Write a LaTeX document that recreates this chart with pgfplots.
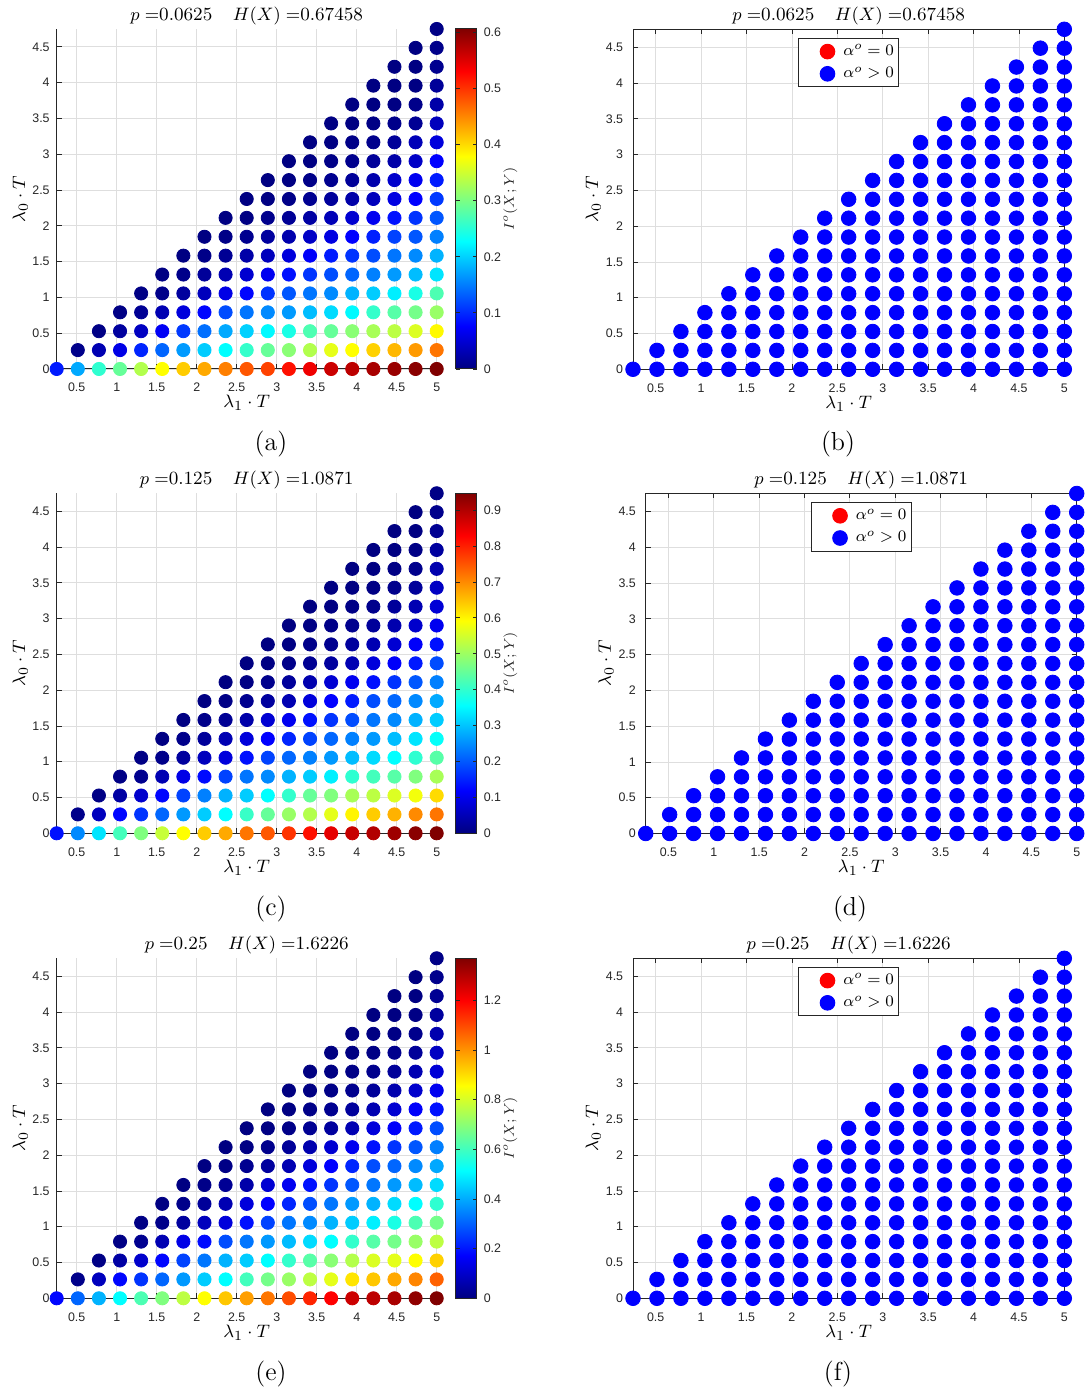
\documentclass[border=0pt]{standalone}
\usepackage{fontspec}
\usepackage{pgfplots}
\usepackage{pgfplotstable}
\pgfplotsset{compat=1.18}
\newfontfamily\tickfont{Liberation Sans}
\definecolor{axgray}{rgb}{0.15,0.15,0.15}
\definecolor{gridgray}{rgb}{0.87,0.87,0.87}

\pgfplotstableread{
x y Ia Ic Ie
0.2500 0 0.091 0.133 0.178
0.5139 0 0.176 0.246 0.308
0.7778 0 0.255 0.331 0.411
1.0417 0 0.288 0.417 0.513
1.3056 0 0.333 0.474 0.616
1.5694 0 0.379 0.540 0.685
1.8333 0 0.409 0.592 0.767
2.0972 0 0.430 0.639 0.856
2.3611 0 0.455 0.672 0.931
2.6250 0 0.479 0.720 0.986
2.8889 0 0.491 0.748 1.040
3.1528 0 0.521 0.781 1.095
3.4167 0 0.539 0.814 1.150
3.6806 0 0.561 0.852 1.198
3.9444 0 0.570 0.881 1.266
4.2083 0 0.582 0.900 1.287
4.4722 0 0.591 0.919 1.314
4.7361 0 0.600 0.938 1.348
5.0000 0 0.606 0.947 1.369
0.5139 0.2639 0.006 0.009 0.014
0.7778 0.2639 0.030 0.057 0.082
1.0417 0.2639 0.061 0.123 0.178
1.3056 0.2639 0.097 0.166 0.240
1.5694 0.2639 0.136 0.213 0.308
1.8333 0.2639 0.167 0.260 0.376
2.0972 0.2639 0.197 0.308 0.445
2.3611 0.2639 0.227 0.355 0.513
2.6250 0.2639 0.258 0.407 0.602
2.8889 0.2639 0.288 0.450 0.671
3.1528 0.2639 0.309 0.497 0.719
3.4167 0.2639 0.333 0.521 0.767
3.6806 0.2639 0.364 0.568 0.821
3.9444 0.2639 0.379 0.601 0.890
4.2083 0.2639 0.406 0.639 0.931
4.4722 0.2639 0.421 0.663 0.972
4.7361 0.2639 0.439 0.701 1.020
5.0000 0.2639 0.461 0.720 1.068
0.7778 0.5278 0.003 0.005 0.007
1.0417 0.5278 0.018 0.033 0.048
1.3056 0.5278 0.039 0.071 0.103
1.5694 0.5278 0.070 0.123 0.178
1.8333 0.5278 0.109 0.180 0.260
2.0972 0.5278 0.142 0.237 0.329
2.3611 0.5278 0.176 0.284 0.411
2.6250 0.5278 0.200 0.308 0.445
2.8889 0.5278 0.224 0.355 0.513
3.1528 0.5278 0.242 0.402 0.582
3.4167 0.5278 0.273 0.450 0.630
3.6806 0.5278 0.288 0.474 0.698
3.9444 0.5278 0.309 0.511 0.753
4.2083 0.5278 0.327 0.530 0.808
4.4722 0.5278 0.339 0.559 0.821
4.7361 0.5278 0.358 0.582 0.856
5.0000 0.5278 0.382 0.625 0.917
1.0417 0.7917 0.003 0.005 0.007
1.3056 0.7917 0.012 0.014 0.021
1.5694 0.7917 0.030 0.047 0.068
1.8333 0.7917 0.055 0.095 0.137
2.0972 0.7917 0.079 0.128 0.185
2.3611 0.7917 0.121 0.180 0.274
2.6250 0.7917 0.145 0.227 0.329
2.8889 0.7917 0.158 0.246 0.376
3.1528 0.7917 0.167 0.284 0.424
3.4167 0.7917 0.188 0.308 0.465
3.6806 0.7917 0.206 0.341 0.513
3.9444 0.7917 0.224 0.398 0.582
4.2083 0.7917 0.258 0.417 0.630
4.4722 0.7917 0.279 0.436 0.671
4.7361 0.7917 0.297 0.474 0.719
5.0000 0.7917 0.318 0.511 0.767
1.3056 1.0556 0.003 0.005 0.007
1.5694 1.0556 0.006 0.009 0.014
1.8333 1.0556 0.018 0.028 0.041
2.0972 1.0556 0.036 0.057 0.082
2.3611 1.0556 0.061 0.085 0.123
2.6250 1.0556 0.079 0.133 0.192
2.8889 1.0556 0.106 0.180 0.260
3.1528 1.0556 0.127 0.213 0.329
3.4167 1.0556 0.145 0.237 0.356
3.6806 1.0556 0.158 0.260 0.411
3.9444 1.0556 0.182 0.294 0.445
4.2083 1.0556 0.197 0.322 0.493
4.4722 1.0556 0.218 0.355 0.548
4.7361 1.0556 0.242 0.398 0.616
5.0000 1.0556 0.273 0.436 0.671
1.5694 1.3194 0.002 0.003 0.004
1.8333 1.3194 0.006 0.009 0.014
2.0972 1.3194 0.015 0.024 0.034
2.3611 1.3194 0.030 0.047 0.068
2.6250 1.3194 0.048 0.085 0.123
2.8889 1.3194 0.067 0.118 0.171
3.1528 1.3194 0.085 0.152 0.219
3.4167 1.3194 0.106 0.180 0.274
3.6806 1.3194 0.121 0.213 0.329
3.9444 1.3194 0.136 0.237 0.376
4.2083 1.3194 0.152 0.260 0.411
4.4722 1.3194 0.167 0.294 0.465
4.7361 1.3194 0.188 0.331 0.513
5.0000 1.3194 0.212 0.360 0.575
1.8333 1.5833 0.001 0.002 0.003
2.0972 1.5833 0.005 0.008 0.011
2.3611 1.5833 0.012 0.019 0.027
2.6250 1.5833 0.024 0.038 0.055
2.8889 1.5833 0.036 0.076 0.110
3.1528 1.5833 0.055 0.104 0.151
3.4167 1.5833 0.073 0.133 0.192
3.6806 1.5833 0.091 0.166 0.240
3.9444 1.5833 0.106 0.189 0.287
4.2083 1.5833 0.121 0.227 0.329
4.4722 1.5833 0.145 0.246 0.376
4.7361 1.5833 0.158 0.284 0.424
5.0000 1.5833 0.182 0.308 0.465
2.0972 1.8472 0.001 0.002 0.003
2.3611 1.8472 0.004 0.006 0.008
2.6250 1.8472 0.009 0.014 0.021
2.8889 1.8472 0.018 0.028 0.041
3.1528 1.8472 0.027 0.047 0.068
3.4167 1.8472 0.042 0.085 0.123
3.6806 1.8472 0.058 0.118 0.171
3.9444 1.8472 0.076 0.142 0.219
4.2083 1.8472 0.094 0.189 0.274
4.4722 1.8472 0.115 0.213 0.308
4.7361 1.8472 0.127 0.246 0.356
5.0000 1.8472 0.152 0.275 0.397
2.3611 2.1111 0.001 0.001 0.001
2.6250 2.1111 0.002 0.004 0.005
2.8889 2.1111 0.007 0.011 0.016
3.1528 2.1111 0.013 0.024 0.034
3.4167 2.1111 0.021 0.043 0.062
3.6806 2.1111 0.033 0.076 0.110
3.9444 2.1111 0.048 0.104 0.151
4.2083 2.1111 0.067 0.133 0.192
4.4722 2.1111 0.085 0.166 0.240
4.7361 2.1111 0.106 0.199 0.287
5.0000 2.1111 0.127 0.237 0.342
2.6250 2.3750 0.001 0.001 0.001
2.8889 2.3750 0.002 0.003 0.004
3.1528 2.3750 0.005 0.008 0.011
3.4167 2.3750 0.010 0.017 0.025
3.6806 2.3750 0.016 0.028 0.041
3.9444 2.3750 0.024 0.047 0.068
4.2083 2.3750 0.036 0.085 0.123
4.4722 2.3750 0.058 0.114 0.164
4.7361 2.3750 0.076 0.142 0.205
5.0000 2.3750 0.109 0.189 0.274
2.8889 2.6389 0.001 0.001 0.001
3.1528 2.6389 0.002 0.003 0.004
3.4167 2.6389 0.005 0.008 0.011
3.6806 2.6389 0.009 0.014 0.021
3.9444 2.6389 0.015 0.027 0.038
4.2083 2.6389 0.027 0.047 0.068
4.4722 2.6389 0.045 0.076 0.110
4.7361 2.6389 0.067 0.114 0.164
5.0000 2.6389 0.091 0.133 0.192
3.1528 2.9028 0.001 0.001 0.001
3.4167 2.9028 0.002 0.003 0.004
3.6806 2.9028 0.004 0.007 0.010
3.9444 2.9028 0.008 0.013 0.019
4.2083 2.9028 0.015 0.024 0.034
4.4722 2.9028 0.024 0.043 0.062
4.7361 2.9028 0.042 0.071 0.103
5.0000 2.9028 0.076 0.104 0.151
3.4167 3.1667 0.001 0.001 0.001
3.6806 3.1667 0.002 0.003 0.004
3.9444 3.1667 0.004 0.006 0.008
4.2083 3.1667 0.007 0.011 0.016
4.4722 3.1667 0.015 0.024 0.034
4.7361 3.1667 0.033 0.047 0.068
5.0000 3.1667 0.055 0.080 0.116
3.6806 3.4306 0.001 0.001 0.001
3.9444 3.4306 0.001 0.002 0.003
4.2083 3.4306 0.003 0.005 0.007
4.4722 3.4306 0.006 0.011 0.016
4.7361 3.4306 0.012 0.024 0.034
5.0000 3.4306 0.036 0.062 0.089
3.9444 3.6944 0.001 0.001 0.001
4.2083 3.6944 0.001 0.002 0.003
4.4722 3.6944 0.002 0.005 0.007
4.7361 3.6944 0.006 0.011 0.016
5.0000 3.6944 0.024 0.043 0.062
4.2083 3.9583 0.001 0.001 0.001
4.4722 3.9583 0.001 0.002 0.003
4.7361 3.9583 0.002 0.005 0.007
5.0000 3.9583 0.015 0.028 0.041
4.4722 4.2222 0.001 0.001 0.001
4.7361 4.2222 0.001 0.002 0.003
5.0000 4.2222 0.009 0.017 0.025
4.7361 4.4861 0.001 0.001 0.001
5.0000 4.4861 0.006 0.011 0.016
5.0000 4.7500 0.003 0.006 0.008
}\data

\newcommand{\tfont}{\tickfont\fontsize{6.2}{7}\selectfont}
\newcommand{\lfont}{\fontsize{9.5}{11}\selectfont}

\pgfplotsset{
  common/.style={
    scale only axis, height=170pt,
    xmin=0.25, xmax=5, ymin=0, ymax=4.75,
    xtick={0.5,1,1.5,2,2.5,3,3.5,4,4.5,5},
    ytick={0,0.5,1,1.5,2,2.5,3,3.5,4,4.5},
    grid=major, major grid style={gridgray, line width=0.4pt},
    tick align=inside, major tick length=2.5pt,
    every tick/.style={axgray, line width=0.4pt},
    axis line style={axgray, line width=0.5pt},
    ticklabel style={font=\tfont, text=axgray},
    xticklabel style={yshift=-3.6pt},
    /pgf/number format/assume math mode=true,
    clip=false,
    xlabel={$\lambda_1\cdot T$}, ylabel={$\lambda_0\cdot T$},
    every axis x label/.style={at={(axis description cs:0.5,0)}, anchor=base, yshift=-19.5pt, font=\lfont},
    every axis title/.style={at={(axis description cs:0.5,1)}, anchor=base, yshift=4.3pt, font=\fontsize{9.3}{11}\selectfont},
  },
  left/.style={
    common, width=190pt, axis lines*=left,
    every axis y label/.style={at={(axis description cs:-0.0834,0.5)}, rotate=90, anchor=base, font=\lfont},
    colorbar, colormap/jet, point meta min=0,
  },
  cbar/.style={
    at={(parent axis.north east)}, anchor=north west, xshift=1pt,
    width=10.5pt, scale only axis,
    yticklabel style={font=\tfont, text=axgray},
    /pgf/number format/assume math mode=true,
    axis line style={axgray, line width=0.5pt},
    tick align=inside, major tick length=2pt,
    every tick/.style={axgray, line width=0.4pt},
    ylabel={$I^o(X;Y)$},
    every axis y label/.style={at={(axis description cs:2.6,0.5)}, rotate=90, anchor=center, font=\fontsize{7.5}{9}\selectfont, text=axgray},
  },
  right/.style={
    common, width=215.65pt,
    every axis y label/.style={at={(axis description cs:-0.081,0.5)}, rotate=90, anchor=base, font=\lfont},
    yticklabel style={xshift=-1.4pt},
    legend cell align=left,
    legend style={at={(axis description cs:0.5,1)}, anchor=north, yshift=-4.35pt,
      draw=axgray, line width=0.5pt, fill=white, font=\fontsize{8}{9.5}\selectfont,
      inner xsep=0.75pt, inner ysep=1.5pt, row sep=1pt, nodes={inner sep=1.6pt},
      /tikz/every odd column/.append style={column sep=2.7pt}},
    legend image code/.code={\path[draw=none,fill=none] (-13.6pt,0pt) -- (0pt,0pt); \draw[##1] plot coordinates {(0pt,0pt)};},
  },
  dots/.style={scatter, only marks, mark=*, mark size=3.3pt, scatter src=explicit,
    scatter/use mapped color={draw=mapped color, fill=mapped color}},
  bdots/.style={only marks, mark=*, mark size=3.65pt, color=blue},
}

\begin{document}
\begin{tikzpicture}
\path[use as bounding box] (0,0) rectangle (542.5pt,696pt);

% (a)
\begin{axis}[left, at={(28.35pt,511.5pt)}, anchor=south west,
  title={$p=$0.0625\hspace{10.3pt}$H(X)=$0.67458},
  point meta max=0.606,
  colorbar style={cbar, ytick={0,0.1,0.2,0.3,0.4,0.5,0.6}}]
\addplot[dots] table[x=x, y=y, meta=Ia]{\data};
\end{axis}

% (b)
\begin{axis}[right, at={(316.5pt,511.35pt)}, anchor=south west,
  title={$p=$0.0625\hspace{10.3pt}$H(X)=$0.67458}]
\addlegendimage{only marks, mark=*, mark size=3.65pt, color=red}
\addlegendentry{$\alpha^o=0$}
\addplot[bdots] table[x=x, y=y]{\data};
\addlegendentry{$\alpha^o>0$}
\end{axis}

% (c)
\begin{axis}[left, at={(28.35pt,279.35pt)}, anchor=south west,
  title={$p=$0.125\hspace{10.3pt}$H(X)=$1.0871},
  point meta max=0.947,
  colorbar style={cbar, ytick={0,0.1,0.2,0.3,0.4,0.5,0.6,0.7,0.8,0.9}}]
\addplot[dots] table[x=x, y=y, meta=Ic]{\data};
\end{axis}

% (d)
\begin{axis}[right, at={(322.85pt,279.25pt)}, anchor=south west, width=215.5pt,
  title={$p=$0.125\hspace{10.3pt}$H(X)=$1.0871}]
\addlegendimage{only marks, mark=*, mark size=3.65pt, color=red}
\addlegendentry{$\alpha^o=0$}
\addplot[bdots] table[x=x, y=y]{\data};
\addlegendentry{$\alpha^o>0$}
\end{axis}

% (e)
\begin{axis}[left, at={(28.35pt,46.85pt)}, anchor=south west,
  title={$p=$0.25\hspace{10.3pt}$H(X)=$1.6226},
  point meta max=1.369,
  colorbar style={cbar, ytick={0,0.2,0.4,0.6,0.8,1,1.2}}]
\addplot[dots] table[x=x, y=y, meta=Ie]{\data};
\end{axis}

% (f)
\begin{axis}[right, at={(316.5pt,46.85pt)}, anchor=south west,
  title={$p=$0.25\hspace{10.3pt}$H(X)=$1.6226}]
\addlegendimage{only marks, mark=*, mark size=3.65pt, color=red}
\addlegendentry{$\alpha^o=0$}
\addplot[bdots] table[x=x, y=y]{\data};
\addlegendentry{$\alpha^o>0$}
\end{axis}

\node[font=\fontsize{13}{15}\selectfont] at (135.5pt,474pt) {(a)};
\node[font=\fontsize{13}{15}\selectfont] at (419pt,474pt) {(b)};
\node[font=\fontsize{13}{15}\selectfont] at (135.5pt,241.5pt) {(c)};
\node[font=\fontsize{13}{15}\selectfont] at (425pt,241.5pt) {(d)};
\node[font=\fontsize{13}{15}\selectfont] at (135.5pt,9pt) {(e)};
\node[font=\fontsize{13}{15}\selectfont] at (419pt,9pt) {(f)};
\end{tikzpicture}
\end{document}
